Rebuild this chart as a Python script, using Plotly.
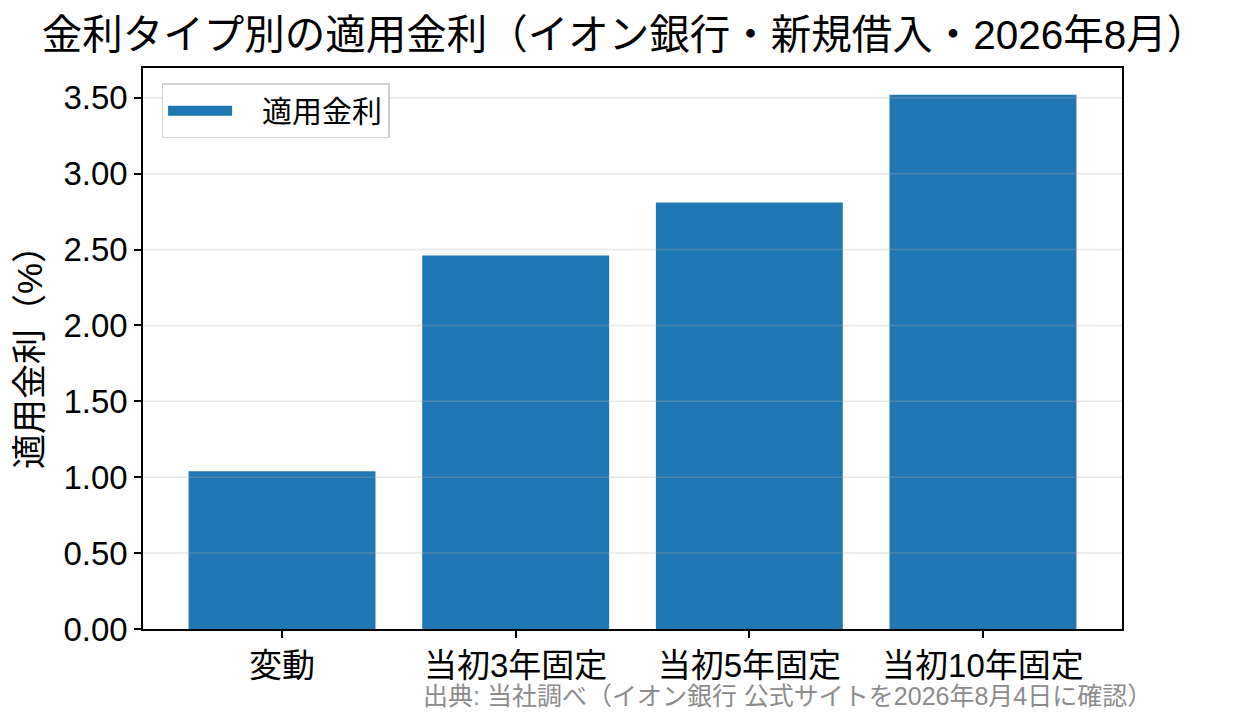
import plotly.graph_objects as go

# 金利タイプ別の適用金利（イオン銀行・新規借入・2026年8月）
categories = ['変動', '当初3年固定', '当初5年固定', '当初10年固定']
rates = [1.04, 2.46, 2.81, 3.52]
y_ticks = [0.0, 0.5, 1.0, 1.5, 2.0, 2.5, 3.0, 3.5]

title_text = '金利タイプ別の適用金利（イオン銀行・新規借入・2026年8月）'
source_text = '出典: 当社調べ（イオン銀行 公式サイトを2026年8月4日に確認）'
series_name = '適用金利'

FONT = 'Liberation Sans, Noto Sans CJK JP'
BLUE = '#1f77b4'

fig = go.Figure()
fig.add_trace(go.Bar(
    x=categories, y=rates, name=series_name,
    marker=dict(color=BLUE, line=dict(width=0)),
    width=0.8, showlegend=False,
))
# legend-only entry so the swatch is a wide block like the original
fig.add_trace(go.Scatter(
    x=[None], y=[None], mode='lines', name='\u00a0\u00a0\u00a0' + series_name,
    line=dict(color=BLUE, width=20), showlegend=True,
))

# gridlines drawn over the bars (like the matplotlib original)
for t in y_ticks[1:]:
    fig.add_shape(type='line', xref='paper', x0=0, x1=1, yref='y', y0=t, y1=t,
                  line=dict(color='rgba(176,176,176,0.3)', width=1.5), layer='above')

# the page body has an 8px margin, so the plot is shifted up/left by that much
fig.update_layout(
    width=1233, height=725,
    margin=dict(l=135, r=119, t=60, b=104),
    paper_bgcolor='white', plot_bgcolor='white',
    font=dict(family=FONT, color='black', size=30),
    title=dict(text=title_text, x=0.5, xanchor='center', y=0.963, yanchor='middle',
               font=dict(family=FONT, size=40.5, color='black')),
    showlegend=True,
    legend=dict(x=0.019, y=0.973, xanchor='left', yanchor='top',
                bgcolor='white', bordercolor='#d0d0d0', borderwidth=1.5,
                font=dict(family=FONT, size=30), itemwidth=64),
)

fig.update_xaxes(
    range=[-0.595, 3.595], showline=True, linecolor='black', linewidth=1.5, mirror=True,
    ticks='outside', ticklen=7, tickcolor='black', tickwidth=1.5, showgrid=False,
    tickfont=dict(family=FONT, size=33),
)
fig.update_yaxes(
    range=[0, 3.696], tickvals=y_ticks, tickformat='.2f',
    showline=True, linecolor='black', linewidth=1.5, mirror=True,
    ticks='outside', ticklen=7, tickcolor='black', tickwidth=1.5,
    showgrid=False, zeroline=False,
    tickfont=dict(family=FONT, size=33),
    title=dict(text='適用金利（%）', font=dict(family=FONT, size=35), standoff=10),
)

fig.add_annotation(
    text=source_text, xref='paper', yref='paper', x=1.033, y=-0.12,
    xanchor='right', yanchor='middle', showarrow=False,
    font=dict(family=FONT, size=25, color='#8c8c8c'),
)

fig.write_html('out.html')
